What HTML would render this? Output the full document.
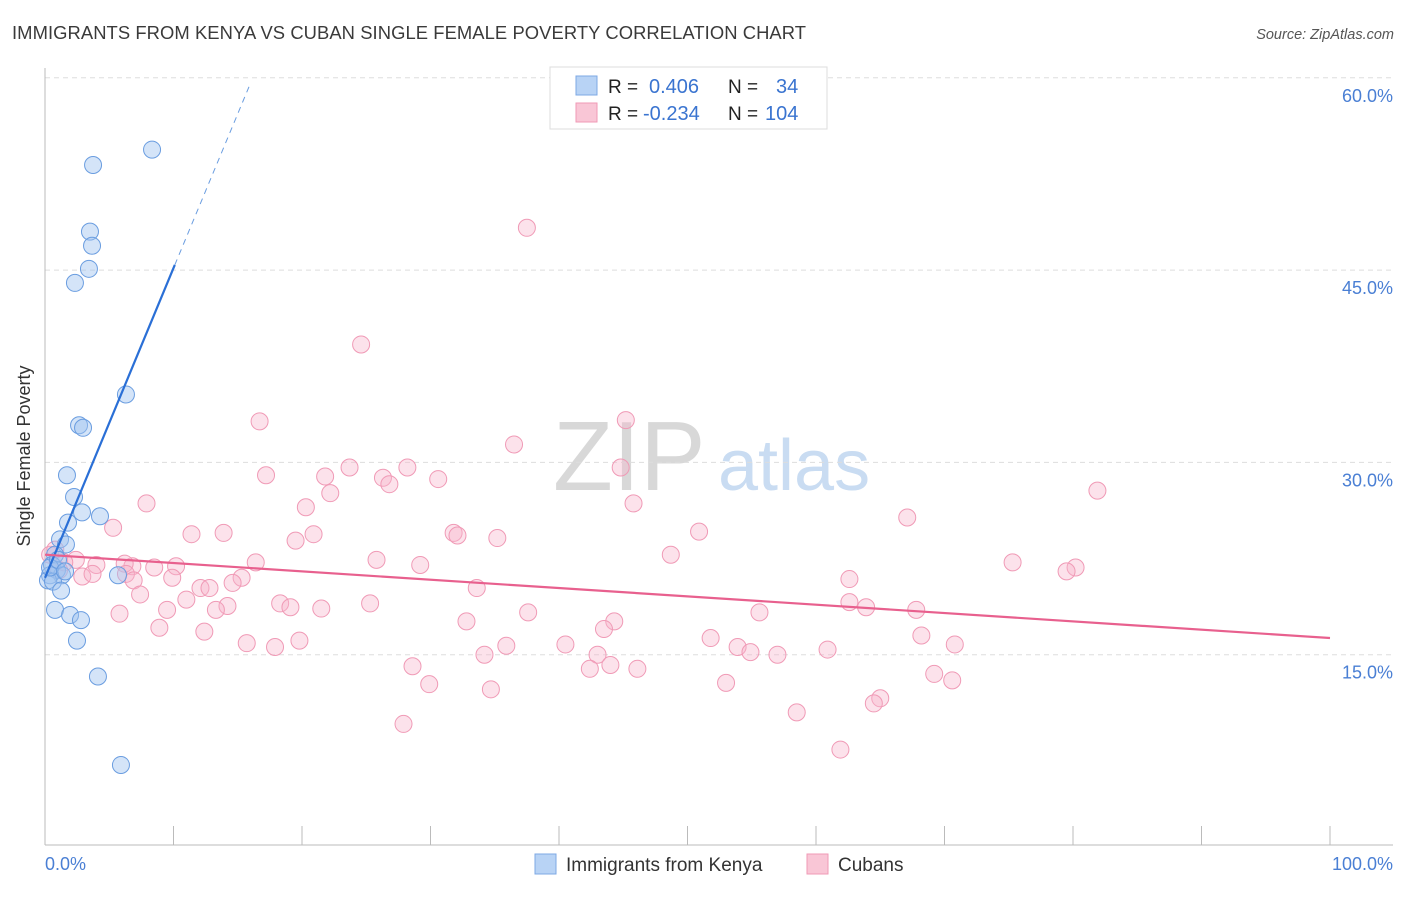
<!DOCTYPE html>
<html><head><meta charset="utf-8"><style>
body{margin:0;background:#fff;font-family:"Liberation Sans",sans-serif}
svg text{font-family:"Liberation Sans",sans-serif}
</style></head><body>
<svg id="chart" width="1406" height="892" xmlns="http://www.w3.org/2000/svg">
<text x="12" y="39" font-size="18.4" fill="#3a3a3a" textLength="794">IMMIGRANTS FROM KENYA VS CUBAN SINGLE FEMALE POVERTY CORRELATION CHART</text>
<text x="1394" y="39" font-size="14.5" fill="#555" font-style="italic" text-anchor="end">Source: ZipAtlas.com</text>
<g>
<text x="553" y="490" font-size="98" font-family="Liberation Serif" fill="#d8d8d8">ZIP</text>
<text x="718" y="490" font-size="72" fill="#c9dcf2">atlas</text>
</g>
<g id="grid"></g>
<g id="axes"></g>
<g id="pinkpts"></g>
<g id="bluepts"></g>
<g id="lines"></g>
<text x="30" y="456" font-size="18" fill="#333" text-anchor="middle" transform="rotate(-90 30 456)">Single Female Poverty</text>
<text x="45" y="870" font-size="18" fill="#4a7fd4">0.0%</text>
<text x="1393" y="870" font-size="18" fill="#4a7fd4" text-anchor="end">100.0%</text>
<g>
<rect x="550" y="67" width="277" height="62" fill="#fff" stroke="#ddd"/>
<rect x="576" y="76" width="21" height="19" fill="#b8d3f5" stroke="#7ea8e4"/>
<rect x="576" y="103" width="21" height="19" fill="#f9c6d6" stroke="#f09ab6"/>
<text x="608" y="93" font-size="19" fill="#222">R = </text><text x="649" y="93" font-size="20" fill="#3a74d0">0.406</text>
<text x="728" y="93" font-size="19" fill="#222">N = </text><text x="776" y="93" font-size="20" fill="#3a74d0">34</text>
<text x="608" y="120" font-size="19" fill="#222">R = </text><text x="643" y="120" font-size="20" fill="#3a74d0">-0.234</text>
<text x="728" y="120" font-size="19" fill="#222">N = </text><text x="765" y="120" font-size="20" fill="#3a74d0">104</text>
</g>
<g>
<rect x="535" y="854" width="21" height="20" fill="#b8d3f5" stroke="#7ea8e4"/>
<text x="566" y="871" font-size="19" fill="#333">Immigrants from Kenya</text>
<rect x="807" y="854" width="21" height="20" fill="#f9c6d6" stroke="#f09ab6"/>
<text x="838" y="871" font-size="19" fill="#333">Cubans</text>
</g>
</svg>
<script>
const yTicks=[15,30,45,60];
const yTickLabels=["15.0%","30.0%","45.0%","60.0%"];
const xTicks=[0,10,20,30,40,50,60,70,80,90,100];
const blueX=[8.33,3.74,3.50,3.66,3.42,2.33,6.30,2.65,2.96,1.71,2.26,2.88,4.28,1.79,1.17,1.63,0.78,5.68,0.54,0.93,1.32,0.39,0.23,0.62,1.25,0.78,1.95,2.80,2.49,4.12,5.91,0.39,1.01,1.56];
const blueY=[54.4,53.2,48.0,46.9,45.1,44.0,35.3,32.9,32.7,29.0,27.3,26.1,25.8,25.3,24.0,23.6,22.8,21.2,22.0,21.6,21.2,21.2,20.8,20.7,20.0,18.5,18.1,17.7,16.1,13.3,6.4,21.8,22.4,21.5];
const pinkX=[37.5,24.6,45.2,16.7,36.5,44.8,28.2,23.7,17.2,26.3,21.8,26.8,30.6,81.9,22.2,7.9,45.8,20.3,67.1,5.3,31.8,32.1,20.9,11.4,13.9,35.2,19.5,50.9,48.7,25.8,29.2,16.4,75.3,80.2,79.5,10.2,8.5,6.8,6.2,4.0,2.4,1.5,1.1,2.9,3.7,6.3,9.9,15.3,14.6,12.1,12.8,6.9,7.4,11.0,62.6,33.6,18.3,19.1,21.5,25.3,14.2,13.3,9.5,5.8,37.6,55.6,62.6,63.9,67.8,44.3,32.8,8.9,12.4,43.5,51.8,19.8,15.7,17.9,35.9,40.5,43.0,53.9,54.9,57.0,60.9,68.2,70.8,34.2,28.6,42.4,44.0,46.1,69.2,70.6,29.9,34.7,53.0,65.0,64.5,58.5,27.9,61.9,0.4,0.8];
const pinkY=[48.3,39.2,33.3,33.2,31.4,29.6,29.6,29.6,29.0,28.8,28.9,28.3,28.7,27.8,27.6,26.8,26.8,26.5,25.7,24.9,24.5,24.3,24.4,24.4,24.5,24.1,23.9,24.6,22.8,22.4,22.0,22.2,22.2,21.8,21.5,21.9,21.8,21.9,22.1,22.0,22.4,22.2,21.6,21.1,21.3,21.3,21.0,21.0,20.6,20.2,20.2,20.8,19.7,19.3,20.9,20.2,19.0,18.7,18.6,19.0,18.8,18.5,18.5,18.2,18.3,18.3,19.1,18.7,18.5,17.6,17.6,17.1,16.8,17.0,16.3,16.1,15.9,15.6,15.7,15.8,15.0,15.6,15.2,15.0,15.4,16.5,15.8,15.0,14.1,13.9,14.2,13.9,13.5,13.0,12.7,12.3,12.8,11.6,11.2,10.5,9.6,7.6,22.8,23.2];
const blueTrend=[[0,21.0],[10.1,45.4],[16,59.6]];
const pinkTrend=[[0,22.8],[100,16.3]];
const NS="http://www.w3.org/2000/svg";
const X=v=>45+v*12.85;
const Y=v=>847-v*12.82;
function mk(tag,attrs,parent){const e=document.createElementNS(NS,tag);for(const k in attrs)e.setAttribute(k,attrs[k]);document.getElementById(parent).appendChild(e);return e;}
yTicks.forEach((t,i)=>{
 const g=mk('line',{x1:45,x2:1393,y1:Y(t),y2:Y(t),stroke:'#ddd','stroke-dasharray':'5,4'},'grid');
 
 
 const l=mk('text',{x:1393,y:Y(t)+24,'font-size':18,fill:'#4a7fd4','text-anchor':'end'},'grid');
 l.textContent=yTickLabels[i];
 
 
});
const ya=mk('line',{x1:45,x2:45,y1:68,y2:845,stroke:'#bbb'},'axes');


const xa=mk('line',{x1:45,x2:1393,y1:845,y2:845,stroke:'#bbb'},'axes');


xTicks.forEach(t=>{
 const k=mk('line',{x1:X(t),x2:X(t),y1:826,y2:845,stroke:'#bbb'},'axes');
 
 
});
pinkX.forEach((v,i)=>{
 const c=mk('circle',{cx:X(v),cy:Y(pinkY[i]),r:8.5,fill:'rgba(248,180,202,0.38)',stroke:'#f09ab6','stroke-width':1},'pinkpts');
 
 
});
blueX.forEach((v,i)=>{
 const c=mk('circle',{cx:X(v),cy:Y(blueY[i]),r:8.5,fill:'rgba(160,196,240,0.45)',stroke:'#6a9de0','stroke-width':1},'bluepts');
 
 
});
const b1=mk('line',{x1:X(blueTrend[0][0]),y1:Y(blueTrend[0][1]),x2:X(blueTrend[1][0]),y2:Y(blueTrend[1][1]),stroke:'#2a6fd6','stroke-width':2.2},'lines');


const b2=mk('line',{x1:X(blueTrend[1][0]),y1:Y(blueTrend[1][1]),x2:X(blueTrend[2][0]),y2:Y(blueTrend[2][1]),stroke:'#6a9de0','stroke-width':1,'stroke-dasharray':'6,5'},'lines');


const p1=mk('line',{x1:X(pinkTrend[0][0]),y1:Y(pinkTrend[0][1]),x2:X(pinkTrend[1][0]),y2:Y(pinkTrend[1][1]),stroke:'#e8608e','stroke-width':2.2},'lines');


</script>
</body></html>
